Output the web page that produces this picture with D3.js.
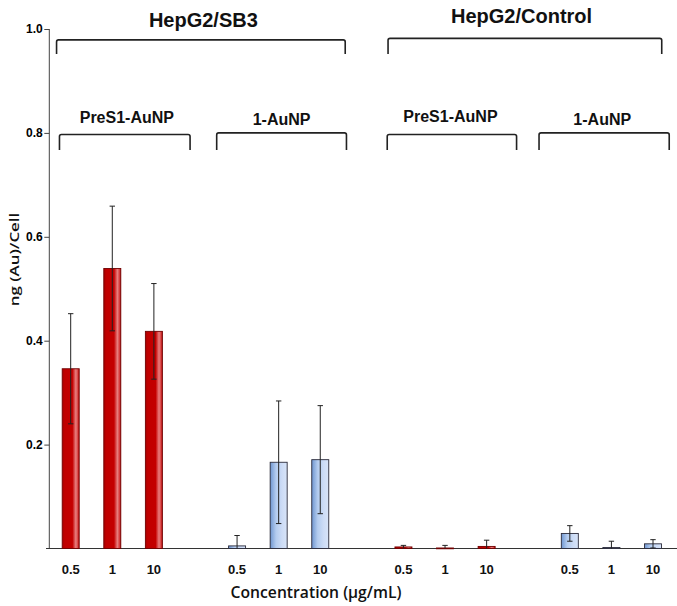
<!DOCTYPE html>
<html><head><meta charset="utf-8">
<script src="https://cdn.jsdelivr.net/npm/d3@7"></script>
<style>html,body{margin:0;padding:0;background:#fff}svg{display:block}</style>
</head><body>
<svg id="c" width="677" height="606"></svg>
<script>
// ---- data ----
const concentrations = ["0.5", "1", "10"];
const cellLines = ["HepG2/SB3", "HepG2/Control"];
const particles = ["PreS1-AuNP", "1-AuNP"];
const sb3PreS1 = [0.346, 0.539, 0.418];
const sb3PreS1Err = [0.106, 0.12, 0.092];
const sb3OneAu = [0.005, 0.166, 0.171];
const sb3OneAuErr = [0.02, 0.118, 0.104];
const ctrlPreS1 = [0.003, 0.001, 0.004];
const ctrlPreS1Err = [0.003, 0.005, 0.012];
const ctrlOneAu = [0.029, 0.002, 0.009];
const ctrlOneAuErr = [0.015, 0.012, 0.008];
const yTicks = [0.2, 0.4, 0.6, 0.8, 1.0];

// ---- layout ----
const W = 677, H = 606;
const y0 = 548.5, y1 = 29, axisX = 49.3;
const svg = d3.select("#c");
const y = d3.scaleLinear().domain([0, 1]).range([y0, y1]);
// slot scale (15 slots: 4 groups of 3 separated by one empty slot)
const x = d3.scaleLinear().domain([0, 14]).range([70.7, 653]);
const barW = 17;

const series = [
  {vals: sb3PreS1, err: sb3PreS1Err, kind: "red"},
  {vals: sb3OneAu, err: sb3OneAuErr, kind: "blue"},
  {vals: ctrlPreS1, err: ctrlPreS1Err, kind: "red"},
  {vals: ctrlOneAu, err: ctrlOneAuErr, kind: "blue"}
];
const bars = [];
series.forEach((s, gi) => s.vals.forEach((v, i) => bars.push({
  slot: gi * 4 + i, v, e: s.err[i], kind: s.kind, label: concentrations[i]
})));

// gradients
const defs = svg.append("defs");
const gR = defs.append("linearGradient").attr("id", "gRed").attr("x1", 0).attr("x2", 1);
[[0, "#a80000"], [0.15, "#c00000"], [0.6, "#c40000"], [0.8, "#e88080"], [0.92, "#d84040"], [1, "#b00000"]]
  .forEach(([o, c]) => gR.append("stop").attr("offset", o).attr("stop-color", c));
const gB = defs.append("linearGradient").attr("id", "gBlue").attr("x1", 0).attr("x2", 1);
[[0, "#6f96d0"], [0.35, "#b4ccef"], [0.7, "#cddcf6"], [1, "#d8e4f8"]]
  .forEach(([o, c]) => gB.append("stop").attr("offset", o).attr("stop-color", c));

// axes
const yAxis = d3.axisLeft(y).tickValues(yTicks).tickFormat(d3.format(".1f")).tickSize(5).tickPadding(1.5);
const ga = svg.append("g").attr("transform", `translate(${axisX},0)`).call(yAxis);
ga.select(".domain").attr("d", `M0,${y1}V${y0}`).attr("stroke", "#444").attr("stroke-width", 1);
ga.selectAll(".tick line").attr("stroke", "#444");
ga.selectAll(".tick text").attr("font-family", "Liberation Sans, Arial, sans-serif")
  .attr("font-weight", "bold").attr("font-size", 12).attr("fill", "#000");

svg.append("line").attr("x1", 46).attr("x2", W).attr("y1", y0).attr("y2", y0)
  .attr("stroke", "#333").attr("stroke-width", 1.2);

// bars
svg.append("g").selectAll("rect").data(bars).join("rect")
  .attr("x", d => x(d.slot) - barW / 2)
  .attr("y", d => y(d.v))
  .attr("width", barW)
  .attr("height", d => Math.max(0.8, y0 - y(d.v)))
  .attr("fill", d => d.kind === "red" ? "url(#gRed)" : "url(#gBlue)")
  .attr("stroke", d => d.kind === "red" ? "#700000" : "#2a2a3a")
  .attr("stroke-width", 0.9);

// error bars
const eg = svg.append("g").attr("stroke", "#222").attr("stroke-width", 1).attr("fill", "none");
bars.forEach(d => {
  const cx = x(d.slot);
  const top = y(d.v + d.e), bot = y(Math.max(0, d.v - d.e));
  eg.append("line").attr("x1", cx).attr("x2", cx).attr("y1", top).attr("y2", bot);
  eg.append("line").attr("x1", cx - 2.7).attr("x2", cx + 2.7).attr("y1", top).attr("y2", top);
  if (d.v - d.e > 0) eg.append("line").attr("x1", cx - 2.7).attr("x2", cx + 2.7).attr("y1", bot).attr("y2", bot);
});

// category labels
svg.append("g").selectAll("text").data(bars).join("text")
  .attr("x", d => x(d.slot)).attr("y", 574)
  .attr("text-anchor", "middle")
  .attr("font-family", "Liberation Sans, Arial, sans-serif")
  .attr("font-weight", "bold").attr("font-size", 13).attr("fill", "#111")
  .text(d => d.label);

// brackets (slot units / y-data units)
const brackets = [
  {text: cellLines[0], from: -0.34, to: 6.60, top: 0.979, end: 0.952, lx: 3.19, ly: 26.5, fs: 20},
  {text: cellLines[1], from: 7.63, to: 14.21, top: 0.982, end: 0.952, lx: 10.84, ly: 22.5, fs: 20},
  {text: particles[0], from: -0.27, to: 2.87, top: 0.797, end: 0.767, lx: 1.35, ly: 123.3, fs: 16},
  {text: particles[1], from: 3.51, to: 6.63, top: 0.800, end: 0.767, lx: 5.07, ly: 125, fs: 16},
  {text: particles[0], from: 7.61, to: 10.72, top: 0.797, end: 0.767, lx: 9.13, ly: 121.7, fs: 16},
  {text: particles[1], from: 11.26, to: 14.39, top: 0.800, end: 0.767, lx: 12.78, ly: 125, fs: 16}
];
const bg = svg.append("g");
brackets.forEach(b => {
  const xa = x(b.from), xb = x(b.to), yt = y(b.top), ye = y(b.end), r = 2;
  bg.append("path")
    .attr("d", `M${xa},${ye}V${yt + r}Q${xa},${yt} ${xa + r},${yt}H${xb - r}Q${xb},${yt} ${xb},${yt + r}V${ye}`)
    .attr("fill", "none").attr("stroke", "#222").attr("stroke-width", 1.6);
  bg.append("text").attr("x", x(b.lx)).attr("y", b.ly).attr("text-anchor", "middle")
    .attr("font-family", "Liberation Sans, Arial, sans-serif").attr("font-weight", "bold")
    .attr("font-size", b.fs).attr("fill", "#111").text(b.text);
});

// axis titles
svg.append("text").attr("x", 316).attr("y", 598).attr("text-anchor", "middle")
  .attr("font-family", "Open Sans, sans-serif").attr("font-weight", 600).attr("font-size", 15.7)
  .attr("fill", "#111").text("Concentration (µg/mL)");
svg.append("text").attr("transform", "translate(18.5,259.5) rotate(-90) scale(1.3,1)").attr("text-anchor", "middle")
  .attr("font-family", "Open Sans, sans-serif").attr("font-weight", 600).attr("font-size", 13)
  .attr("fill", "#111").text("ng (Au)/Cell");
</script>
</body></html>
